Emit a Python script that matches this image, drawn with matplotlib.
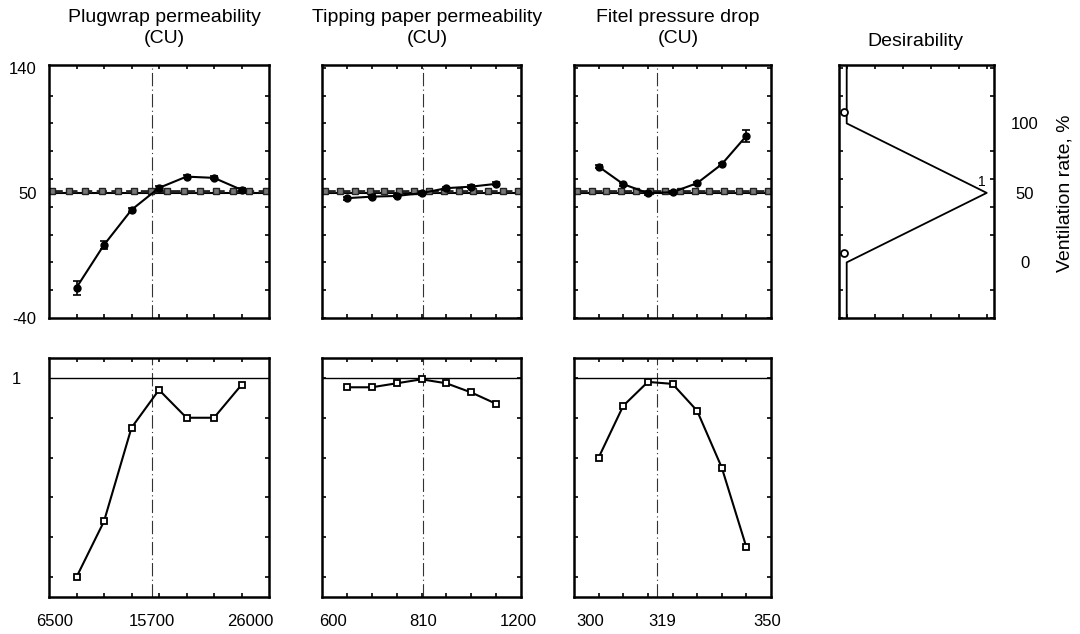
import numpy as np
import matplotlib
matplotlib.use('Agg')
import matplotlib.pyplot as plt
from matplotlib.ticker import FixedLocator, MultipleLocator

plt.rcParams['font.family'] = ['Liberation Sans', 'DejaVu Sans']

# coded factor levels, each x axis runs from -1 (min) to 1 (max)
levels = [-0.75, -0.5, -0.25, 0.0, 0.25, 0.5, 0.75]

titles = ['Plugwrap permeability\n(CU)',
          'Tipping paper permeability\n(CU)',
          'Fitel pressure drop\n(CU)']
x_labels = [['6500', '15700', '26000'],
            ['600', '810', '1200'],
            ['300', '319', '350']]
x_label_pos = [[-0.945, -0.065, 0.83],
               [-0.89, 0.015, 0.97],
               [-0.84, -0.107, 0.96]]
center_level = [-0.06, 0.02, -0.16]

# predicted ventilation rate (%) with error bars
vent_pred = [[-18.1, 12.6, 37.8, 53.6, 61.7, 60.8, 52.2],
             [46.2, 47.3, 47.8, 49.8, 53.4, 54.5, 56.5],
             [68.9, 56.3, 49.8, 50.5, 57.0, 70.6, 91.0]]
vent_err = [[5, 3, 1.5, 1, 1, 1, 1],
            [1, 1, 1, 1, 1, 1, 1],
            [1, 1, 1, 1, 1, 1, 4.5]]

# desirability
desir = [[0.0, 0.28, 0.75, 0.94, 0.80, 0.80, 0.965],
         [0.953, 0.953, 0.973, 0.993, 0.973, 0.927, 0.87],
         [0.60, 0.86, 0.98, 0.97, 0.835, 0.55, 0.15]]

target = 50
band = 51.5
vent_curve = [-40, 0, 50, 100, 142]
desir_curve = [0, 0, 1, 0, 0]
limit_vent = [108.5, 7]
limit_desir = [-0.02, -0.02]

W, H = 1080, 634
fig = plt.figure(figsize=(W / 100, H / 100), dpi=100)


def px_axes(x0, y0, x1, y1):
    return fig.add_axes([x0 / W, 1 - y1 / H, (x1 - x0) / W, (y1 - y0) / H])


def frame(ax):
    for s in ax.spines.values():
        s.set_linewidth(1.8)
    ax.tick_params(which='major', length=0, labelsize=12)
    ax.tick_params(which='minor', direction='in', length=3, width=1.2,
                   top=True, bottom=True, left=True, right=True)


panel_x = [(49, 269), (322, 521), (574, 771)]

for i in range(3):
    x0, x1 = panel_x[i]

    # top row: ventilation rate
    ax = px_axes(x0, 65, x1, 318)
    frame(ax)
    ax.set_xlim(-1, 1)
    ax.set_ylim(-40, 142)
    ax.axvline(center_level[i], color='#333333', lw=0.8, ls=(0, (12, 3, 1, 3)))
    ax.axhline(target, color='black', lw=1.5)
    xb = np.linspace(-0.97, 0.97, 14)
    ax.plot(xb, [band] * len(xb), color='#222222', lw=2, ls='--',
            marker='s', ms=4, mfc='#777777', mec='#222222', mew=1)
    ax.errorbar(levels, vent_pred[i], yerr=vent_err[i], color='black', lw=1.5,
                marker='o', ms=5, capsize=3, elinewidth=1.2, capthick=1.2, zorder=5)
    ax.xaxis.set_minor_locator(FixedLocator(levels))
    ax.yaxis.set_minor_locator(MultipleLocator(20))
    ax.set_xticks([])
    if i == 0:
        ax.set_yticks([-40, 50, 140])
        ax.set_yticklabels(['-40', '50', '140'])
        ax.tick_params(axis='y', which='major', pad=9)
    else:
        ax.set_yticks([])
    fig.text((x0 + x1) / 2 / W + 0.005, 1 - 28 / H, titles[i], ha='center',
             va='center', fontsize=14, linespacing=1.25)

    # bottom row: desirability
    ax = px_axes(x0, 358, x1, 597)
    frame(ax)
    ax.set_xlim(-1, 1)
    ax.set_ylim(-0.1, 1.1)
    ax.axvline(center_level[i], color='#333333', lw=0.8, ls=(0, (12, 3, 1, 3)))
    ax.axhline(1, color='black', lw=1)
    ax.plot(levels, desir[i], color='black', lw=1.5, marker='s', ms=4.5,
            mfc='white', mec='black', mew=1.3, zorder=5)
    ax.xaxis.set_minor_locator(FixedLocator(levels))
    ax.yaxis.set_minor_locator(MultipleLocator(0.2))
    ax.set_xticks(x_label_pos[i])
    ax.set_xticklabels(x_labels[i])
    ax.tick_params(axis='x', which='major', pad=12)
    if i == 0:
        ax.set_yticks([1])
        ax.set_yticklabels(['1'])
        ax.tick_params(axis='y', which='major', pad=20)
    else:
        ax.set_yticks([])

# desirability function for ventilation rate
ax = px_axes(839, 65, 994, 318)
frame(ax)
ax.set_xlim(-0.055, 1.052)
ax.set_ylim(-40, 142)
ax.plot(desir_curve, vent_curve, color='black', lw=1.3)
ax.plot(limit_desir, limit_vent, ls='none', marker='o', ms=5, mfc='white',
        mec='black', mew=1.3)
ax.text(0.965, 58, '1', ha='center', va='center', fontsize=10)
ax.xaxis.set_minor_locator(MultipleLocator(0.2))
ax.yaxis.set_minor_locator(MultipleLocator(20))
ax.set_xticks([])
ax.yaxis.tick_right()
ax.set_yticks([0, 50, 100])
ax.set_yticklabels(['0', '50', '100'])
ax.tick_params(axis='y', which='major', pad=22, right=True, left=False)
for t in ax.get_yticklabels():
    t.set_horizontalalignment('center')
ax.tick_params(which='minor', left=True, right=True)
fig.text(915 / W, 1 - 42 / H, 'Desirability', ha='center', va='center', fontsize=14)
fig.text(1065 / W, 1 - 193 / H, 'Ventilation rate, %', ha='center', va='center',
         rotation=90, fontsize=14)

fig.savefig('out.png', dpi=100)
